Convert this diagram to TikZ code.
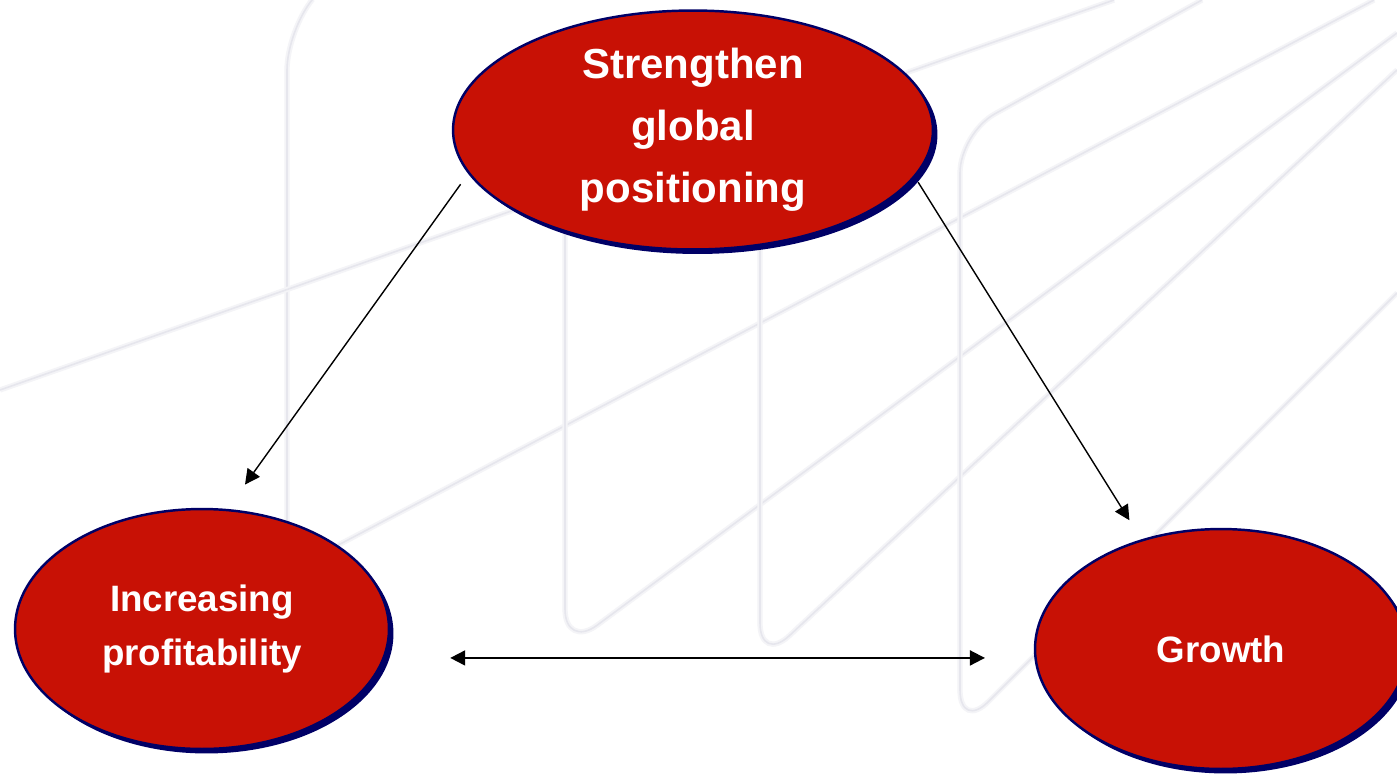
\documentclass[tikz,border=0pt]{standalone}
\usepackage{fontspec}
\setmainfont{Liberation Sans}
\usetikzlibrary{arrows.meta,shadows,shapes.geometric}
\definecolor{bubblered}{RGB}{200,17,5}
\definecolor{bubbleblue}{RGB}{0,0,102}
\definecolor{watermark}{RGB}{230,230,237}
\definecolor{watermarkhalo}{RGB}{244,244,247}

\begin{document}
\begin{tikzpicture}[x=0.02cm,y=-0.02cm,
    >={Triangle[length=3mm,width=3mm]},
    bubble/.style={ellipse,draw=bubbleblue,line width=1.4pt,fill=bubblered,
      text=white,align=center,inner sep=0pt,
      drop shadow={shadow xshift=0.09cm,shadow yshift=-0.09cm,fill=bubbleblue,opacity=1}},
    bigtext/.style={font=\fontsize{23.9}{35.3}\selectfont\bfseries},
    smalltext/.style={font=\fontsize{20.9}{30.7}\selectfont\bfseries},
    faint/.style={draw=watermark,line width=0.9pt,rounded corners=0.8cm,
      preaction={draw=watermarkhalo,line width=3pt}}]
    \useasboundingbox[fill=white] (0,0) rectangle (1397,774);
    %% Background lines
    \draw[faint] (312,0) -- (287,30) -- (287,572) -- (1374,0);
    \draw[faint] (565,150) -- (565,649) -- (1397,33);
    \draw[faint] (760,150) -- (760,663) -- (1397,70);
    \draw[faint] (1202,0) -- (960,133) -- (960,730) -- (1397,293);
    \draw[faint] (0,390) -- (1114,0);
    \node[bubble,bigtext,minimum width=9.6cm,minimum height=4.78cm] (1) at (693,130) {Strengthen\\global\\positioning};
    \node[bubble,smalltext,minimum width=7.48cm,minimum height=4.8cm] (2) at (202,629) {Increasing\\profitability};
    \node[bubble,smalltext,minimum width=7.44cm,minimum height=4.8cm] (3) at (1221,649) {Growth};
    %% Diagonal arrows
    \draw[->,line width=0.8pt,shorten <=0.26cm,shorten >=0.6cm] (1.191) -- (2.78);
    \draw[->,line width=0.8pt,shorten <=0.12cm,shorten >=0.45cm] (1.348) -- (3.126);
    %% Horizontal arrow
    \draw[<->,line width=1.1pt,shorten <=1.31cm,shorten >=0.99cm] (2.351) -- (2.351 -| 3.183);
\end{tikzpicture}
\end{document}
